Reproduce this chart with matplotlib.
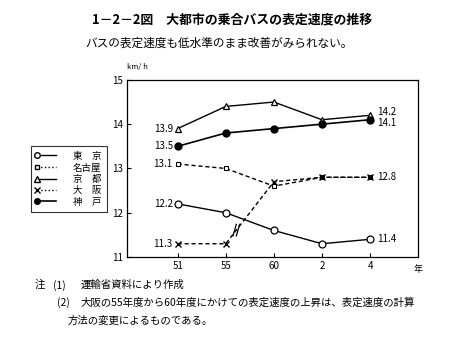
import matplotlib
matplotlib.use("Agg")
import matplotlib.pyplot as plt
from matplotlib.lines import Line2D

plt.rcParams['font.family'] = ['Noto Sans CJK JP', 'DejaVu Sans']

years = ["51", "55", "60", "2", "4"]
tokyo = [12.2, 12.0, 11.6, 11.3, 11.4]
nagoya = [13.1, 13.0, 12.6, 12.8, 12.8]
kyoto = [13.9, 14.4, 14.5, 14.1, 14.2]
osaka = [11.3, 11.3, 12.7, 12.8, 12.8]
kobe = [13.5, 13.8, 13.9, 14.0, 14.1]
yticks = [11, 12, 13, 14, 15]

fig = plt.figure(figsize=(4.59, 3.55), dpi=100)
ax = fig.add_axes([0.277, 0.276, 0.634, 0.499])
x = list(range(len(years)))

ax.plot(x, tokyo, '-', color='black', lw=1.0, marker='o', ms=5, mfc='white', mec='black', mew=0.9)
ax.plot(x, nagoya, '--', color='black', lw=1.0, dashes=(3, 2), marker='s', ms=3, mfc='white', mec='black', mew=0.8)
ax.plot(x, kyoto, '-', color='black', lw=1.0, marker='^', ms=5, mfc='white', mec='black', mew=0.9)
ax.plot(x, osaka, '--', color='black', lw=1.0, dashes=(3, 2), marker='x', ms=5, mec='black', mew=1.0)
ax.plot(x, kobe, '-', color='black', lw=1.2, marker='o', ms=5, mfc='black', mec='black')

# break mark on Osaka line between 55 and 60
t = 0.22
bx = 1 + t
by = osaka[1] + t * (osaka[2] - osaka[1])
for dx in (-0.035, 0.035):
    ax.plot([bx + dx - 0.035, bx + dx + 0.035], [by - 0.13, by + 0.13], color='black', lw=0.9)

ax.set_xlim(-1.05, 5.0)
ax.set_ylim(11, 15)
ax.set_xticks(x)
ax.set_xticklabels(years, fontsize=7)
ax.set_yticks(yticks)
ax.set_yticklabels([str(v) for v in yticks], fontsize=7)
ax.tick_params(direction='in', length=3, width=0.8, pad=3)
for s in ax.spines.values():
    s.set_linewidth(0.9)

fs = 7
ax.text(-0.1, kyoto[0], f"{kyoto[0]:.1f}", ha='right', va='center', fontsize=fs)
ax.text(-0.1, kobe[0], f"{kobe[0]:.1f}", ha='right', va='center', fontsize=fs)
ax.text(-0.1, nagoya[0], f"{nagoya[0]:.1f}", ha='right', va='center', fontsize=fs)
ax.text(-0.1, tokyo[0], f"{tokyo[0]:.1f}", ha='right', va='center', fontsize=fs)
ax.text(-0.1, osaka[0], f"{osaka[0]:.1f}", ha='right', va='center', fontsize=fs)
ax.text(4.15, kyoto[-1] + 0.08, f"{kyoto[-1]:.1f}", ha='left', va='center', fontsize=fs)
ax.text(4.15, kobe[-1] - 0.08, f"{kobe[-1]:.1f}", ha='left', va='center', fontsize=fs)
ax.text(4.15, osaka[-1], f"{osaka[-1]:.1f}", ha='left', va='center', fontsize=fs)
ax.text(4.15, tokyo[-1], f"{tokyo[-1]:.1f}", ha='left', va='center', fontsize=fs)

fig.text(0.300, 0.812, "km/ h", fontsize=5.5, ha='center', va='center')
fig.text(0.911, 0.240, "年", fontsize=6.5, ha='center', va='center')

handles = [
    Line2D([], [], color='black', lw=1.0, marker='o', ms=4, mfc='white', mec='black'),
    Line2D([], [], color='black', lw=1.0, ls=':', marker='s', ms=3, mfc='white', mec='black'),
    Line2D([], [], color='black', lw=1.0, marker='^', ms=4, mfc='white', mec='black'),
    Line2D([], [], color='black', lw=1.0, ls=':', marker='x', ms=4, mec='black'),
    Line2D([], [], color='black', lw=1.2, marker='o', ms=4, mfc='black', mec='black'),
]
labels = ["東　京", "名古屋", "京　都", "大　阪", "神　戸"]
leg = fig.legend(handles, labels, loc='upper left', bbox_to_anchor=(0.058, 0.602),
                 fontsize=6.8, frameon=True, fancybox=False, edgecolor='black',
                 handlelength=2.0, handletextpad=1.8, labelspacing=0.25,
                 borderpad=0.6, markerfirst=True)
leg.get_frame().set_linewidth(0.8)
for h in leg.legend_handles:
    h.set_markevery([0])

fig.text(0.505, 0.944, "1－2－2図　大都市の乗合バスの表定速度の推移", fontsize=9.3,
         fontweight='bold', ha='center', va='center')
fig.text(0.185, 0.878, "バスの表定速度も低水準のまま改善がみられない。", fontsize=8.4,
         ha='left', va='center')

fig.text(0.076, 0.197, "注", fontsize=7.5, ha='left', va='center')
fig.text(0.115, 0.197, "(1)", fontsize=7.5, ha='left', va='center')
fig.text(0.175, 0.197, "運輸省資料により作成", fontsize=7.5, ha='left', va='center')
fig.text(0.124, 0.147, "(2)", fontsize=7.5, ha='left', va='center')
fig.text(0.175, 0.147, "大阪の55年度から60年度にかけての表定速度の上昇は、表定速度の計算",
         fontsize=7.5, ha='left', va='center')
fig.text(0.148, 0.098, "方法の変更によるものである。", fontsize=7.5, ha='left', va='center')

fig.savefig("out.png", dpi=100)
